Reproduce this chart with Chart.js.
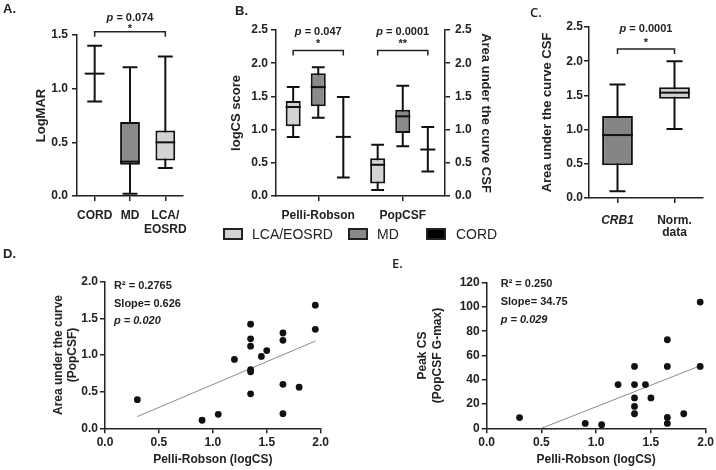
<!DOCTYPE html>
<html>
<head>
<meta charset="utf-8">
<script src="https://cdn.jsdelivr.net/npm/chart.js@4.4.1/dist/chart.umd.min.js"></script>
<style>
  body { margin: 0; width: 716px; height: 470px; background: #fff; position: relative; overflow: hidden; font-family: 'Liberation Sans', Arial, sans-serif; }
  canvas { position: absolute; }
  .panel { position: absolute; font-size: 13px; line-height: 13px; font-weight: bold; color: #222; z-index: 2; }
  .panel.alt { font-family: 'Open Sans', sans-serif; font-weight: 600; }
  .key { position: absolute; top: 228px; width: 16px; height: 8px; border: 2px solid #222; }
  .keyText { position: absolute; top: 227px; font-size: 14px; line-height: 14px; color: #222; }
</style>
</head>
<body>
<canvas id="chartA" width="200" height="245" style="left:0;top:0"></canvas>
<canvas id="chartB" width="320" height="225" style="left:200px;top:0"></canvas>
<canvas id="chartC" width="196" height="245" style="left:520px;top:0"></canvas>
<canvas id="chartD" width="355" height="230" style="left:0;top:240px"></canvas>
<canvas id="chartE" width="361" height="230" style="left:355px;top:240px"></canvas>

<div class="panel" style="left:3px;top:2px">A.</div>
<div class="panel" style="left:235px;top:4px">B.</div>
<div class="panel alt" style="left:530px;top:6px">C.</div>
<div class="panel" style="left:3px;top:247px">D.</div>
<div class="panel alt" style="left:392px;top:257px">E.</div>

<div class="key" style="left:223px;background:#d3d3d3"></div>
<div class="keyText" style="left:252px">LCA/EOSRD</div>
<div class="key" style="left:348px;background:#8a8a8a"></div>
<div class="keyText" style="left:377px">MD</div>
<div class="key" style="left:426px;background:#000"></div>
<div class="keyText" style="left:456px">CORD</div>

<script>
// A. visual acuity (LogMAR) per group
const acuityGroups = ['CORD', 'MD', ['LCA/', 'EOSRD']];
const acuityMin = [0.88, 0.02, 0.26];
const acuityQ1 = [1.14, 0.29, 0.33];
const acuityMed = [1.14, 0.32, 0.50];
const acuityQ3 = [1.14, 0.69, 0.61];
const acuityMax = [1.40, 1.20, 1.30];

// B. contrast sensitivity, Pelli-Robson / PopCSF
const csTests = ['Pelli-Robson', 'PopCSF'];
const lcaMin = [0.89, 0.09];
const lcaQ1 = [1.05, 0.19];
const lcaMed = [1.34, 0.47];
const lcaQ3 = [1.43, 0.57];
const lcaMax = [1.64, 0.77];
const mdMin = [1.18, 0.75];
const mdQ1 = [1.35, 0.95];
const mdMed = [1.64, 1.20];
const mdQ3 = [1.85, 1.30];
const mdMax = [1.94, 1.66];
const cordMin = [0.28, 0.37];
const cordMed = [0.89, 0.70];
const cordMax = [1.49, 1.04];

// C. area under the CSF curve
const csfGroups = ['CRB1', ['Norm.', 'data']];
const csfMin = [0.10, 1.01];
const csfQ1 = [0.48, 1.45];
const csfMed = [0.92, 1.54];
const csfQ3 = [1.20, 1.62];
const csfMax = [1.66, 2.00];

// D. Pelli-Robson vs AUC (PopCSF)
const pelliD = [0.30, 0.90, 1.05, 1.20, 1.35, 1.35, 1.35, 1.35, 1.35, 1.35, 1.45, 1.50, 1.65, 1.65, 1.65, 1.65, 1.80, 1.95, 1.95];
const aucD = [0.39, 0.11, 0.19, 0.94, 1.42, 1.22, 1.12, 0.80, 0.77, 0.47, 0.98, 1.06, 1.30, 1.20, 0.60, 0.20, 0.56, 1.68, 1.35];
const fitXD = [0.30, 1.95];
const fitYD = [0.16, 1.19];
const statsD = ['R² = 0.2765', 'Slope= 0.626', 'p = 0.020'];

// E. Pelli-Robson vs peak CS
const pelliE = [0.30, 0.90, 1.05, 1.20, 1.35, 1.35, 1.35, 1.35, 1.35, 1.45, 1.50, 1.65, 1.65, 1.65, 1.65, 1.80, 1.95, 1.95];
const peakE = [8.8, 4, 3, 36, 51, 36, 25, 18, 12, 36, 25, 73, 51, 9, 4, 12, 104, 51];
const fitXE = [0.50, 1.95];
const fitYE = [0, 51.5];
const statsE = ['R² = 0.250', 'Slope= 34.75', 'p = 0.029'];

const FONT = "'Liberation Sans', Arial, sans-serif";
const INK = '#222';
Chart.defaults.font.family = FONT;
Chart.defaults.color = INK;

function drawP(ctx, cx, cy, value) {
    const it = 'italic bold 11px ' + FONT, bd = 'bold 11px ' + FONT;
    ctx.font = it;
    const w1 = ctx.measureText('p').width;
    ctx.font = bd;
    const w2 = ctx.measureText(' = ' + value).width;
    const x = cx - (w1 + w2) / 2;
    ctx.textAlign = 'left';
    ctx.textBaseline = 'middle';
    ctx.font = it;
    ctx.fillText('p', x, cy);
    ctx.font = bd;
    ctx.fillText(' = ' + value, x + w1, cy);
}

// whiskers behind the boxes, medians + significance brackets on top
const boxPlot = {
    id: 'boxPlot',
    beforeDatasetsDraw(chart, args, opts) {
        const ctx = chart.ctx, y = chart.scales.y;
        ctx.save();
        ctx.strokeStyle = '#111';
        ctx.lineWidth = 2;
        chart.data.datasets.forEach((ds, di) => {
            chart.getDatasetMeta(di).data.forEach((bar, i) => {
                const top = y.getPixelForValue(ds.whiskerMax[i]);
                const bot = y.getPixelForValue(ds.whiskerMin[i]);
                const half = bar.width * opts.capRatio / 2;
                ctx.beginPath();
                ctx.moveTo(bar.x, top); ctx.lineTo(bar.x, bot);
                ctx.moveTo(bar.x - half, top); ctx.lineTo(bar.x + half, top);
                ctx.moveTo(bar.x - half, bot); ctx.lineTo(bar.x + half, bot);
                ctx.stroke();
            });
        });
        ctx.restore();
    },
    afterDatasetsDraw(chart, args, opts) {
        const ctx = chart.ctx, y = chart.scales.y;
        ctx.save();
        ctx.strokeStyle = '#111';
        ctx.lineWidth = 2;
        chart.data.datasets.forEach((ds, di) => {
            chart.getDatasetMeta(di).data.forEach((bar, i) => {
                const my = y.getPixelForValue(ds.median[i]);
                ctx.beginPath();
                ctx.moveTo(bar.x - bar.width / 2, my);
                ctx.lineTo(bar.x + bar.width / 2, my);
                ctx.stroke();
            });
        });
        ctx.strokeStyle = INK;
        ctx.fillStyle = INK;
        ctx.lineWidth = 1.5;
        (opts.brackets || []).forEach(b => {
            const x1 = chart.getDatasetMeta(b.from[0]).data[b.from[1]].x;
            const x2 = chart.getDatasetMeta(b.to[0]).data[b.to[1]].x;
            const by = y.getPixelForValue(b.value);
            ctx.beginPath();
            ctx.moveTo(x1, by + 5); ctx.lineTo(x1, by); ctx.lineTo(x2, by); ctx.lineTo(x2, by + 5);
            ctx.stroke();
            const cx = (x1 + x2) / 2;
            drawP(ctx, cx, by + opts.textDy, b.p);
            ctx.font = 'bold 11px ' + FONT;
            ctx.textAlign = 'center';
            ctx.fillText(b.stars, cx, by + opts.starDy);
        });
        ctx.restore();
    }
};

const statsText = {
    id: 'statsText',
    afterDraw(chart, args, opts) {
        const ctx = chart.ctx, {left, top} = chart.chartArea;
        ctx.save();
        ctx.fillStyle = INK;
        ctx.textAlign = 'left';
        ctx.textBaseline = 'middle';
        opts.lines.forEach((t, k) => {
            ctx.font = (k === 2 ? 'italic ' : '') + 'bold 11px ' + FONT;
            ctx.fillText(t, left + opts.dx, top + opts.dy + k * opts.gap);
        });
        ctx.restore();
    }
};

const tickFont = { family: FONT, size: 12, weight: 'bold' };
const titleFont = { family: FONT, size: 13, weight: 'bold' };

function valueAxis(o) {
    return {
        type: 'linear',
        position: o.position || 'left',
        min: o.min,
        max: o.max,
        afterFit: s => { s.width = o.width; },
        border: { color: INK, width: 1.5 },
        grid: { drawOnChartArea: false, tickLength: 5, color: INK, lineWidth: 1.5 },
        ticks: { stepSize: o.step, padding: o.pad, font: o.font || tickFont, color: INK, callback: o.fmt || (v => v.toFixed(1)) },
        title: o.title
            ? { display: true, text: o.title, font: o.titleFont || titleFont, color: INK, padding: { top: o.titlePad, bottom: o.titlePad } }
            : { display: false }
    };
}

function groupAxis(height, pad, font) {
    return {
        type: 'category',
        afterFit: s => { s.height = height; },
        border: { color: INK, width: 1.5 },
        grid: { drawOnChartArea: false, offset: false, tickLength: 5, color: INK, lineWidth: 1.5 },
        ticks: { padding: pad, font: font || tickFont, color: INK, maxRotation: 0, autoSkip: false }
    };
}

const common = {
    responsive: false,
    devicePixelRatio: 1,
    animation: false,
    events: [],
    plugins: { legend: { display: false }, tooltip: { enabled: false } }
};

// ---- A ----
new Chart(document.getElementById('chartA'), {
    type: 'bar',
    data: {
        labels: acuityGroups,
        datasets: [{
            data: acuityQ1.map((q, i) => [q, acuityQ3[i]]),
            whiskerMin: acuityMin, whiskerMax: acuityMax, median: acuityMed,
            backgroundColor: ['#000', '#8a8a8a', '#d3d3d3'],
            borderColor: '#111', borderWidth: 2, borderSkipped: false,
            categoryPercentage: 1, barPercentage: 0.56
        }]
    },
    options: {
        ...common,
        layout: { padding: { top: 35, right: 17, bottom: 0, left: 0 } },
        scales: {
            x: groupAxis(49, 7),
            y: valueAxis({ min: 0, max: 1.5, step: 0.5, width: 77, pad: 4, title: 'LogMAR', titlePad: 34 })
        },
        plugins: {
            ...common.plugins,
            boxPlot: { capRatio: 0.75, textDy: -14, starDy: -3, brackets: [{ from: [0, 0], to: [0, 2], value: 1.53, p: '0.074', stars: '*' }] }
        }
    },
    plugins: [boxPlot]
});

// ---- B ----
const bBox = { borderColor: '#111', borderWidth: 2, borderSkipped: false, categoryPercentage: 0.89, barPercentage: 0.6 };
new Chart(document.getElementById('chartB'), {
    type: 'bar',
    data: {
        labels: csTests,
        datasets: [
            { ...bBox, label: 'LCA/EOSRD', data: lcaQ1.map((q, i) => [q, lcaQ3[i]]), whiskerMin: lcaMin, whiskerMax: lcaMax, median: lcaMed, backgroundColor: '#d3d3d3' },
            { ...bBox, label: 'MD', data: mdQ1.map((q, i) => [q, mdQ3[i]]), whiskerMin: mdMin, whiskerMax: mdMax, median: mdMed, backgroundColor: '#8a8a8a' },
            { ...bBox, label: 'CORD', data: cordMed.map(m => [m, m]), whiskerMin: cordMin, whiskerMax: cordMax, median: cordMed, backgroundColor: '#000' }
        ]
    },
    options: {
        ...common,
        layout: { padding: { top: 30, right: 0, bottom: 0, left: 0 } },
        scales: {
            x: groupAxis(29, 7),
            y: valueAxis({ min: 0, max: 2.5, step: 0.5, width: 76, pad: 3, title: 'logCS score', titlePad: 29 }),
            y1: valueAxis({ position: 'right', min: 0, max: 2.5, step: 0.5, width: 75, pad: 5, title: 'Area under the curve CSF', titlePad: 27 })
        },
        plugins: {
            ...common.plugins,
            boxPlot: {
                capRatio: 0.85, textDy: -19, starDy: -7,
                brackets: [
                    { from: [0, 0], to: [2, 0], value: 2.19, p: '0.047', stars: '*' },
                    { from: [0, 1], to: [2, 1], value: 2.19, p: '0.0001', stars: '**' }
                ]
            }
        }
    },
    plugins: [boxPlot]
});

// ---- C ----
new Chart(document.getElementById('chartC'), {
    type: 'bar',
    data: {
        labels: csfGroups,
        datasets: [{
            data: csfQ1.map((q, i) => [q, csfQ3[i]]),
            whiskerMin: csfMin, whiskerMax: csfMax, median: csfMed,
            backgroundColor: ['#858585', '#cfcfcf'],
            borderColor: '#111', borderWidth: 2, borderSkipped: false,
            categoryPercentage: 1, barPercentage: 0.54
        }]
    },
    options: {
        ...common,
        layout: { padding: { top: 27, right: 13, bottom: 0, left: 0 } },
        scales: {
            x: groupAxis(47, 11, c => ({ family: FONT, size: 12, weight: 'bold', lineHeight: 1.05, style: c.index === 0 ? 'italic' : 'normal' })),
            y: valueAxis({ min: 0, max: 2.5, step: 0.5, width: 69, pad: 1, title: 'Area under the curve CSF', titlePad: 20 })
        },
        plugins: {
            ...common.plugins,
            boxPlot: { capRatio: 0.52, textDy: -20, starDy: -6, brackets: [{ from: [0, 0], to: [0, 1], value: 2.18, p: '0.0001', stars: '*' }] }
        }
    },
    plugins: [boxPlot]
});

// ---- D / E scatter ----
function scatterChart(id, xs, ys, fitX, fitY, o) {
    return new Chart(document.getElementById(id), {
        type: 'scatter',
        data: {
            datasets: [
                { data: xs.map((x, i) => ({ x, y: ys[i] })), backgroundColor: '#111', borderColor: '#111', pointRadius: 3.4, pointBorderWidth: 0 },
                { type: 'line', data: fitX.map((x, i) => ({ x, y: fitY[i] })), borderColor: '#8a8a8a', borderWidth: 1, pointRadius: 0, showLine: true, fill: false }
            ]
        },
        options: {
            ...common,
            layout: { padding: { top: o.top, right: o.right, bottom: 0, left: 0 } },
            scales: {
                x: {
                    type: 'linear', min: 0, max: 2,
                    afterFit: s => { s.height = 41.7; },
                    border: { color: INK, width: 1.5 },
                    grid: { drawOnChartArea: false, tickLength: 5, color: INK, lineWidth: 1.5 },
                    ticks: { stepSize: 0.5, padding: 2, font: tickFont, color: INK, callback: v => v.toFixed(1) },
                    title: { display: true, text: 'Pelli-Robson (logCS)', font: { family: FONT, size: 12, weight: 'bold' }, color: INK, padding: { top: 0, bottom: 3.5 } }
                },
                y: valueAxis({
                    min: 0, max: o.ymax, step: o.ystep, width: o.yw, pad: 2, fmt: o.fmt,
                    title: o.ytitle, titlePad: o.titlePad,
                    titleFont: { family: FONT, size: 12, weight: 'bold', lineHeight: 1.2 }
                })
            },
            plugins: { ...common.plugins, statsText: o.stats }
        },
        plugins: [statsText]
    });
}

scatterChart('chartD', pelliD, aucD, fitXD, fitYD, {
    top: 41.7, right: 34.3, ymax: 2, ystep: 0.5, yw: 105,
    ytitle: ['Area under the curve', '(PopCSF)'], titlePad: 51,
    stats: { lines: statsD, dx: 9, dy: 4.5, gap: 17.5 }
});

scatterChart('chartE', pelliE, peakE, fitXE, fitYE, {
    top: 42.7, right: 9.3, ymax: 120, ystep: 20, yw: 131.7, fmt: v => v.toFixed(0),
    ytitle: ['Peak CS', '(PopCSF G-max)'], titlePad: 60.8,
    stats: { lines: statsE, dx: 14, dy: 1.5, gap: 18 }
});
</script>
</body>
</html>
